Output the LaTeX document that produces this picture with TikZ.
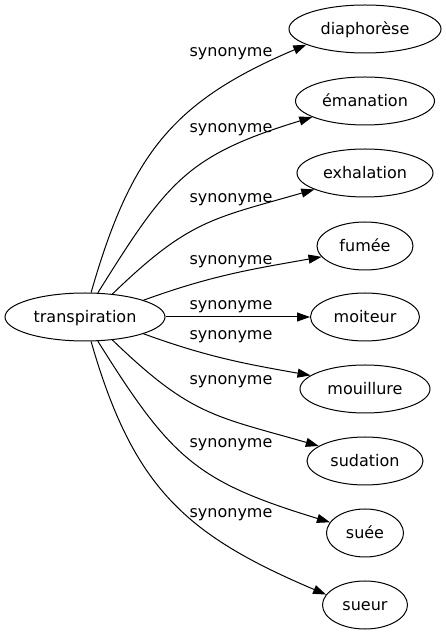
\documentclass[tikz,border=0pt]{standalone}
\usepackage{fontspec}
\setmainfont{DejaVu Sans}
\usetikzlibrary{arrows.meta,shapes.geometric}
\tikzset{
  word/.style={draw, ellipse, inner sep=0pt, minimum height=48pt, line width=1pt,
    text height=11.5pt, text depth=0.5pt, font=\fontsize{16}{19}\selectfont},
  syn/.style={anchor=base, inner sep=0pt, font=\fontsize{16}{19}\selectfont},
  rel/.style={-{Triangle[length=13pt,width=9pt]}, line width=1pt},
}
\begin{document}
\begin{tikzpicture}[x=1pt,y=1pt]
\useasboundingbox (0,0) rectangle (446,635);

\node[word, minimum width=160pt] (transpiration) at (85,318) {transpiration};

\node[word, minimum width=152pt] (diaphorese) at (365,606) {diaphorèse};
\node[word, minimum width=139pt] (emanation)  at (365,534) {émanation};
\node[word, minimum width=136pt] (exhalation) at (365,462) {exhalation};
\node[word, minimum width=96pt]  (fumee)      at (365,389) {fumée};
\node[word, minimum width=109pt] (moiteur)    at (365,318) {moiteur};
\node[word, minimum width=130pt] (mouillure)  at (365,246) {mouillure};
\node[word, minimum width=116pt] (sudation)   at (365,174) {sudation};
\node[word, minimum width=77pt]  (suee)       at (365,102) {suée};
\node[word, minimum width=85pt]  (sueur)      at (365,30)  {sueur};

\node[syn] (syn-diaphorese) at (231,578) {synonyme};
\node[syn] (syn-emanation)  at (231,502) {synonyme};
\node[syn] (syn-exhalation) at (231,432) {synonyme};
\node[syn] (syn-fumee)      at (231,370) {synonyme};
\node[syn] (syn-moiteur)    at (231,325) {synonyme};
\node[syn] (syn-mouillure)  at (231,295) {synonyme};
\node[syn] (syn-sudation)   at (231,250) {synonyme};
\node[syn] (syn-suee)       at (231,187) {synonyme};
\node[syn] (syn-sueur)      at (231,117) {synonyme};

\draw[rel] (transpiration.76)  to[out=74,in=203,looseness=1.13]  (diaphorese.195);
\draw[rel] (transpiration.62)  to[out=58,in=197,looseness=1.21]  (emanation.197);
\draw[rel] (transpiration.40)  to[out=44,in=196,looseness=1.2]   (exhalation.198);
\draw[rel] (transpiration.16)  to[out=20,in=190]                 (fumee.194);
\draw[rel] (transpiration.east) --                              (moiteur.west);
\draw[rel] (transpiration.-16) to[out=-20,in=170]                (mouillure.166);
\draw[rel] (transpiration.-40) to[out=-44,in=164,looseness=1.2]  (sudation.162);
\draw[rel] (transpiration.-62) to[out=-58,in=163,looseness=1.21] (suee.163);
\draw[rel] (transpiration.-76) to[out=-74,in=157,looseness=1.13] (sueur.165);
\end{tikzpicture}
\end{document}
